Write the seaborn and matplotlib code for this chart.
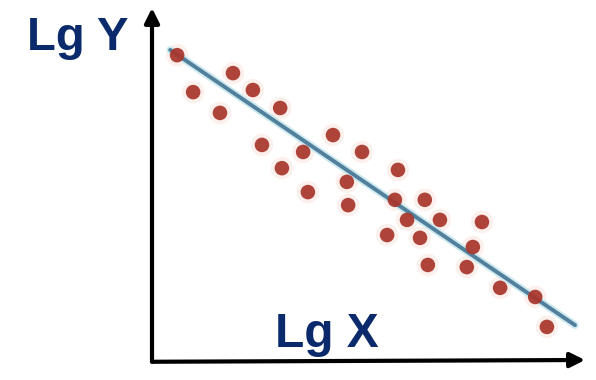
import matplotlib
matplotlib.use("Agg")
import matplotlib.pyplot as plt
import seaborn as sns
import pandas as pd

# Data (arbitrary log units)
lg_x = [0.58, 1.87, 0.95, 2.33, 1.57, 2.96, 2.54, 3.49, 4.18, 4.85, 3.00, 5.68, 3.60, 4.50,
        4.53, 5.61, 6.30, 5.89, 6.65, 7.62, 5.43, 6.19, 7.41, 6.37, 7.27, 8.04, 8.85, 9.12]
lg_y = [8.66, 8.15, 7.61, 7.67, 7.02, 7.16, 6.11, 5.91, 6.39, 5.91, 5.45, 5.40, 4.77, 5.06,
        4.40, 4.55, 4.55, 3.98, 3.98, 3.92, 3.55, 3.47, 3.21, 2.70, 2.64, 2.05, 1.79, 0.94]
fit_x = [0.42, 9.77]
fit_y = [8.81, 0.99]
x_label = "Lg X"
y_label = "Lg Y"

df = pd.DataFrame({"x": lg_x, "y": lg_y})
fit = pd.DataFrame({"x": fit_x, "y": fit_y})

sns.set_theme(style="white")
plt.rcParams['font.family'] = ['Liberation Sans', 'DejaVu Sans']

W, H = 596, 380
fig = plt.figure(figsize=(W / 100, H / 100), dpi=100)
fig.patch.set_facecolor("white")
x0, x1 = 152, 585
y0, y1 = 360, 8
ax = fig.add_axes([x0 / W, (H - y0) / H, (x1 - x0) / W, (y0 - y1) / H])
ax.set_xlim(0, 10)
ax.set_ylim(0, 10)
ax.patch.set_alpha(0)
for s in ax.spines.values():
    s.set_visible(False)
ax.set_xticks([])
ax.set_yticks([])

# faint halo under points
sns.scatterplot(data=df, x="x", y="y", ax=ax, s=260, color="#f6c6b8", alpha=0.25,
                edgecolor="none", legend=False, zorder=2)
# fit line with light glow
sns.lineplot(data=fit, x="x", y="y", ax=ax, color="#cdeaf0", lw=5.5, zorder=3)
sns.lineplot(data=fit, x="x", y="y", ax=ax, color="#52809c", lw=2.8, zorder=4)
sns.scatterplot(data=df, x="x", y="y", ax=ax, s=110, color="#a8342a",
                edgecolor="none", legend=False, zorder=5, alpha=0.92)
ax.set_xlabel("")
ax.set_ylabel("")

# axis arrows
arrow = dict(arrowstyle="-|>", lw=3, color="black", mutation_scale=22,
             shrinkA=0, shrinkB=0)
ax.annotate("", xy=(1, 0), xytext=(0, -0.005), xycoords="axes fraction",
            arrowprops=arrow, annotation_clip=False)
ax.annotate("", xy=(0, 1), xytext=(0, -0.005), xycoords="axes fraction",
            arrowprops=arrow, annotation_clip=False)

navy = "#0b2a6b"
fig.text(27 / W, 1 - 50 / H, y_label, ha="left", va="baseline", fontsize=34,
         fontweight="bold", color=navy)
fig.text(275 / W, 1 - 347 / H, x_label, ha="left", va="baseline", fontsize=34.5,
         fontweight="bold", color=navy)

fig.savefig("out.png", dpi=100, facecolor="white")
